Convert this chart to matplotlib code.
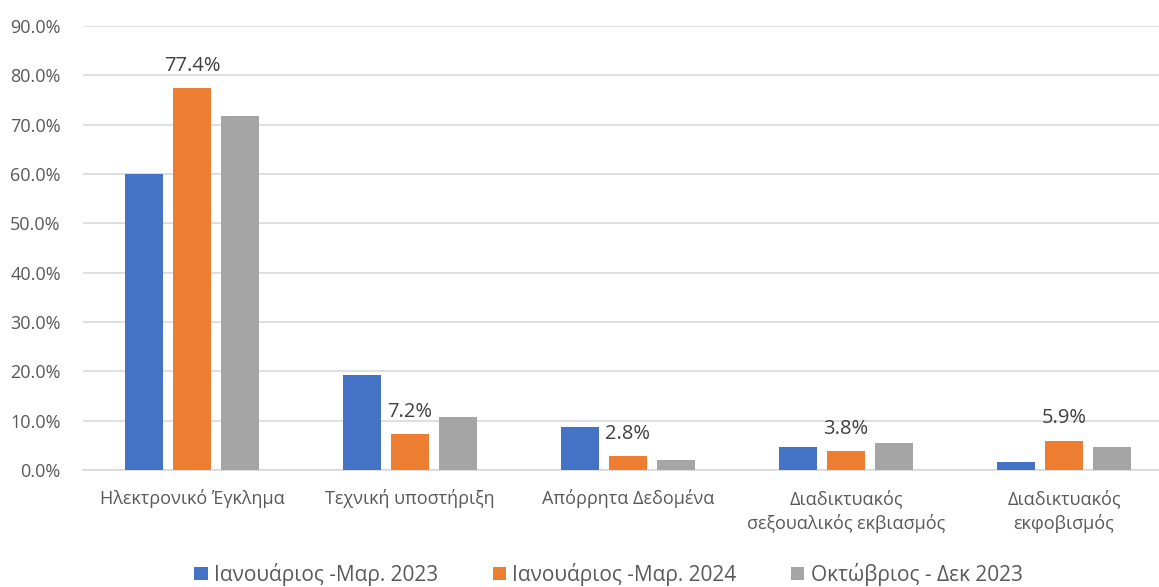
import numpy as np
import matplotlib.pyplot as plt
from matplotlib.ticker import FuncFormatter

categories = ['Ηλεκτρονικό Έγκλημα', 'Τεχνική υποστήριξη', 'Απόρρητα Δεδομένα',
              'Διαδικτυακός\nσεξουαλικός εκβιασμός', 'Διαδικτυακός\nεκφοβισμός']
series_names = ['Ιανουάριος -Μαρ. 2023', 'Ιανουάριος -Μαρ. 2024', 'Οκτώβριος - Δεκ 2023']
jan_mar_2023 = [60.0, 19.3, 8.7, 4.6, 1.6]
jan_mar_2024 = [77.4, 7.2, 2.8, 3.8, 5.9]
oct_dec_2023 = [71.8, 10.7, 2.0, 5.5, 4.6]

colors = ['#4472C4', '#ED7D31', '#A5A5A5']
text_color = '#595959'

plt.rcParams['font.family'] = ['Open Sans', 'DejaVu Sans']

fig = plt.figure(figsize=(11.59, 5.87), dpi=100)
ax = fig.add_axes([83 / 1159, 117 / 587, 1 - 83 / 1159, (470 - 26) / 587])

x = np.arange(len(categories))
width = 0.174
step = 0.22
bars = []
for i, (vals, name) in enumerate(zip([jan_mar_2023, jan_mar_2024, oct_dec_2023], series_names)):
    b = ax.bar(x + (i - 1) * step, vals, width, color=colors[i], label=name, zorder=3)
    bars.append(b)

# data labels on the 2024 series only
for rect, v in zip(bars[1], jan_mar_2024):
    ax.annotate(f'{v:.1f}%', (rect.get_x() + rect.get_width() / 2, v),
                xytext=(0, 9), textcoords='offset points', ha='center', va='bottom',
                fontsize=14.5, color='#404040')

ax.set_ylim(0, 90)
ax.set_xlim(-0.5, (1159 - 192) / 218)
ax.set_yticks(np.arange(0, 91, 10))
ax.yaxis.set_major_formatter(FuncFormatter(lambda v, p: f'{v:.1f}%'))
ax.grid(axis='y', color='#D9D9D9', linewidth=1.2, zorder=0)
for s in ['top', 'right', 'left']:
    ax.spines[s].set_visible(False)
ax.spines['bottom'].set_color('#D9D9D9')
ax.spines['bottom'].set_linewidth(1.2)
ax.tick_params(axis='both', length=0, colors=text_color, labelsize=13)
ax.tick_params(axis='y', pad=16)
ax.tick_params(axis='x', pad=14)
ax.set_xticks(x)
ax.set_xticklabels(categories, linespacing=1.4)

fig.legend(loc='lower center', bbox_to_anchor=(0.525, -0.03), ncol=3, frameon=False,
           fontsize=15, handlelength=0.65, handleheight=0.65, handletextpad=0.3,
           columnspacing=2.6, labelcolor=text_color)

fig.savefig('out.png', dpi=100)
